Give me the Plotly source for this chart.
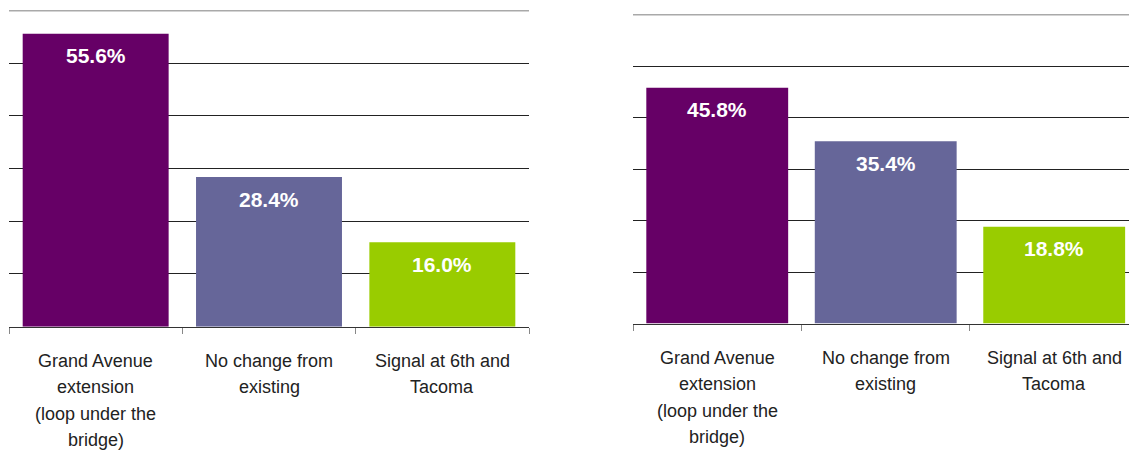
import plotly.graph_objects as go

# Survey results for two respondent groups, three options each
categories = ["Grand Avenue\nextension\n(loop under the\nbridge)",
              "No change from\nexisting",
              "Signal at 6th and\nTacoma"]
left_values = [55.6, 28.4, 16.0]
right_values = [45.8, 35.4, 18.8]
bar_colors = ["#660066", "#666699", "#99CC00"]
axis_max = 60

cat_keys = ["c0", "c1", "c2"]

LABEL_FONT = "Liberation Sans Narrow, Arial Narrow, Liberation Sans, Arial, sans-serif"
VALUE_FONT = "Liberation Sans, Arial, sans-serif"

fig = go.Figure()

panels = [("x", "y", left_values), ("x2", "y2", right_values)]
for xa, ya, vals in panels:
    fig.add_trace(go.Bar(
        x=cat_keys, y=vals, xaxis=xa, yaxis=ya,
        marker=dict(color=bar_colors, line=dict(width=0)),
        showlegend=False, hoverinfo="skip",
    ))

annotations = []
shapes = []
for xa, ya, vals in panels:
    for key, v in zip(cat_keys, vals):
        annotations.append(dict(
            x=key, y=v, xref=xa, yref=ya, text=f"<b>{v:.1f}%</b>",
            showarrow=False, yanchor="middle", yshift=-22,
            font=dict(family=VALUE_FONT, size=21, color="white"),
        ))
    for key, label in zip(cat_keys, categories):
        for i, line in enumerate(label.split("\n")):
            annotations.append(dict(
                x=key, y=0, xref=xa, yref=ya, text=line,
                showarrow=False, yanchor="middle", yshift=-34 - 26.5 * i,
                font=dict(family=LABEL_FONT, size=18, color="#222222"),
            ))
    # gridline along the top of the value range
    shapes.append(dict(
        type="line", xref=f"{xa} domain", yref=ya, x0=0, x1=1,
        y0=axis_max, y1=axis_max, line=dict(color="#555555", width=1.5),
        layer="below",
    ))

yaxis_common = dict(
    range=[0, axis_max], dtick=10, showgrid=True, gridcolor="#222222",
    gridwidth=1, zeroline=False, showline=False, showticklabels=False,
    ticks="", fixedrange=True,
)
xaxis_common = dict(
    type="category", showgrid=False, showline=True, linecolor="#333333",
    linewidth=1, showticklabels=False, ticks="outside", ticklen=6,
    tickcolor="#888888", tickwidth=1, tickson="boundaries", zeroline=False,
)

fig.update_layout(
    width=1129, height=455,
    margin=dict(l=0, r=0, t=0, b=0),
    paper_bgcolor="white", plot_bgcolor="white",
    bargap=0.158,
    xaxis=dict(domain=[9 / 1129, 529 / 1129], range=[-0.5, 2.5], anchor="y",
               **xaxis_common),
    yaxis=dict(domain=[0.282, 0.977], anchor="x", **yaxis_common),
    xaxis2=dict(domain=[633 / 1129, 1.0], range=[-0.5, 2.444], anchor="y2",
                **xaxis_common),
    yaxis2=dict(domain=[0.289, 0.968], anchor="x2", **yaxis_common),
    annotations=annotations,
    shapes=shapes,
)

fig.write_html("out.html")
